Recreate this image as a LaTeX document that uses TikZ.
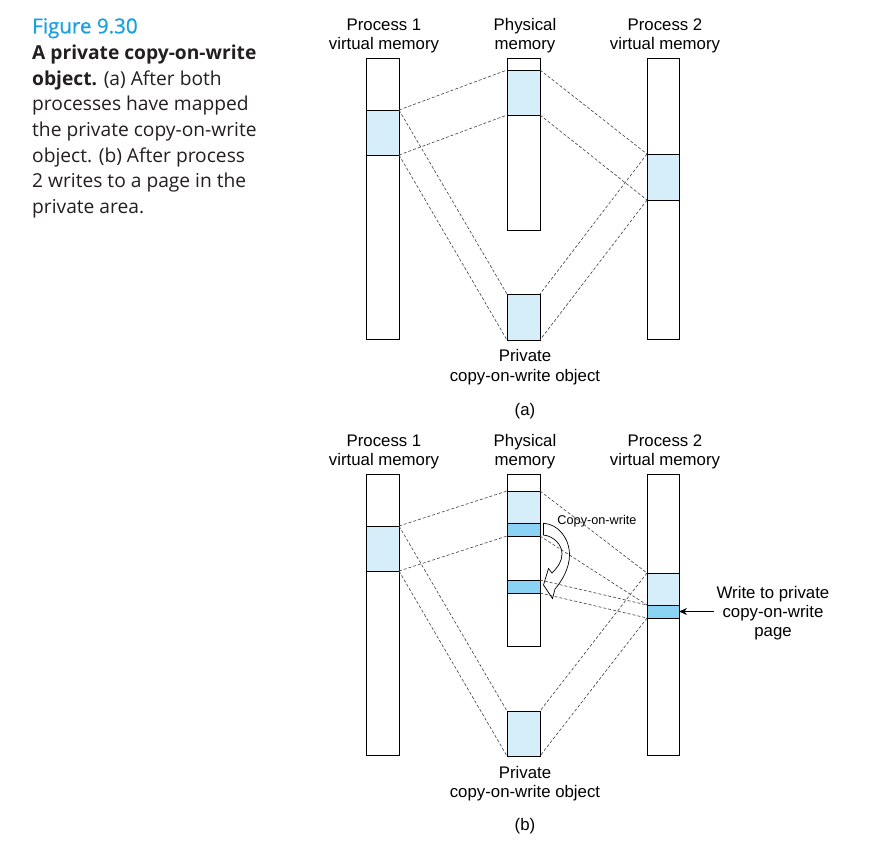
\documentclass[tikz,border=0pt]{standalone}
\usepackage{fontspec}
\setmainfont{Liberation Sans}
\newfontfamily\capfont{Open Sans}
\newfontface\figfont{Open Sans}[FakeBold=0.8]
\usetikzlibrary{arrows.meta}
\definecolor{lightblk}{HTML}{D6EEFA}
\definecolor{darkblk}{HTML}{8AD3F4}
\definecolor{figcyan}{HTML}{1BA1E2}
\definecolor{captext}{HTML}{231F20}
\definecolor{dashgray}{gray}{0.25}
\begin{document}
\begin{tikzpicture}[x=1pt,y=-1pt,
  blk/.style={draw, line width=0.9pt, inner sep=0pt, outer sep=0pt, anchor=north west, minimum width=33pt},
  lightb/.style={blk, fill=lightblk},
  darkb/.style={blk, fill=darkblk},
  lbl/.style={font=\fontsize{16.8}{19.3}\selectfont, align=center, inner sep=0pt},
  smalllbl/.style={font=\fontsize{12.7}{15}\selectfont, inner sep=0pt},
  mapline/.style={draw=dashgray, line width=0.6pt, dash pattern=on 3pt off 2pt},
  cowarrow/.style={draw, line width=0.7pt},
  captionstyle/.style={inner sep=0pt, anchor=base west, align=left, text=captext}
]
\useasboundingbox[fill=white] (0,0) rectangle (892,855);

% ---------- caption ----------
\node[captionstyle, font=\figfont\fontsize{20.6}{24}\selectfont, text=figcyan] (fig) at (32,33.3) {Figure 9.30};
\node[captionstyle, font=\capfont\fontsize{19.2}{25.7}\selectfont] (captxt) at (32,213.5)
 {\textbf{A private copy-on-write}\\\textbf{object.} (a) After both\\processes have mapped\\the private copy-on-write\\object. (b) After process\\2 writes to a page in the\\private area.};

% ---------- panel (a) ----------
\node[lbl, anchor=base] (la1) at (384,49.3) {Process 1\\virtual memory};
\node[lbl, anchor=base] (lam) at (525,49.3) {Physical\\memory};
\node[lbl, anchor=base] (la2) at (665,49.3) {Process 2\\virtual memory};

\node[blk, minimum height=281pt] (a1) at (366,58) {};
\node[lightb, minimum height=45pt] (a1b) at (366,110) {};
\node[blk, minimum height=172pt] (am) at (507,58) {};
\node[lightb, minimum height=45pt] (amb) at (507,70) {};
\node[blk, minimum height=281pt, minimum width=32pt] (a2) at (647,58) {};
\node[lightb, minimum height=46pt, minimum width=32pt] (a2b) at (647,154) {};
\node[lightb, minimum height=46pt] (ao) at (507,294) {};

\draw[mapline] (a1b.north east) -- (amb.north west);
\draw[mapline] (a1b.south east) -- (amb.south west);
\draw[mapline] (a1b.north east) -- (ao.north west);
\draw[mapline] (a1b.south east) -- (ao.south west);
\draw[mapline] (amb.north east) -- (a2b.north west);
\draw[mapline] (amb.south east) -- (a2b.south west);
\draw[mapline] (a2b.north west) -- (ao.north east);
\draw[mapline] (a2b.south west) -- (ao.south east);

\node[lbl, anchor=base] (lao) at (525,381) {Private\\copy-on-write object};
\node[lbl, anchor=base] (capa) at (525,415) {(a)};

% ---------- panel (b) ----------
\node[lbl, anchor=base] (lb1) at (384,465.3) {Process 1\\virtual memory};
\node[lbl, anchor=base] (lbm) at (525,465.3) {Physical\\memory};
\node[lbl, anchor=base] (lb2) at (665,465.3) {Process 2\\virtual memory};

\node[blk, minimum height=281pt] (b1) at (366,474) {};
\node[lightb, minimum height=45pt] (b1b) at (366,526) {};
\node[blk, minimum height=172pt] (bm) at (507,474) {};
\node[lightb, minimum height=32pt] (bml) at (507,491) {};
\node[darkb, minimum height=13pt] (bmd1) at (507,523) {};
\node[darkb, minimum height=13pt] (bmd2) at (507,580) {};
\node[blk, minimum height=281pt, minimum width=32pt] (b2) at (647,474) {};
\node[lightb, minimum height=32pt, minimum width=32pt] (b2l) at (647,573) {};
\node[darkb, minimum height=13pt, minimum width=32pt] (b2d) at (647,605) {};
\node[lightb, minimum height=45pt] (bo) at (507,711) {};

\draw[mapline] (b1b.north east) -- (bml.north west);
\draw[mapline] (b1b.south east) -- (bmd1.south west);
\draw[mapline] (b1b.north east) -- (bo.north west);
\draw[mapline] (b1b.south east) -- (bo.south west);
\draw[mapline] (bml.north east) -- (b2l.north west);
\draw[mapline] (bmd1.south east) -- (b2d.north west);
\draw[mapline] (bmd2.north east) -- (b2d.north west);
\draw[mapline] (bmd2.south east) -- (b2d.south west);
\draw[mapline] (b2l.north west) -- (bo.north east);
\draw[mapline] (b2d.south west) -- (bo.south east);

% copy-on-write block arrow
\draw[cowarrow] (543.5,523.3) .. controls (558,524) and (569.5,538) .. (569.5,555)
  .. controls (569.5,568) and (562,581) .. (555,589) -- (552.5,598.5) -- (543.5,585) -- (548.5,568.5) -- (552,573)
  .. controls (558,567) and (562,561) .. (562,554) .. controls (562,544) and (553,536) .. (543.5,535) -- cycle;
\node[smalllbl] (cow) at (597,521.7) {Copy-on-write};

\node[lbl, anchor=base] (lbo) at (525,797.3) {Private\\copy-on-write object};
\node[lbl, anchor=base] (capb) at (525,830.7) {(b)};

\node[lbl] (wr) at (773,613) {Write to private\\copy-on-write\\page};
\draw[-{Stealth[length=8pt,width=7pt]}, line width=0.8pt, shorten <=2.5pt] (wr.west |- b2d.east) -- (b2d.east);
\end{tikzpicture}
\end{document}
